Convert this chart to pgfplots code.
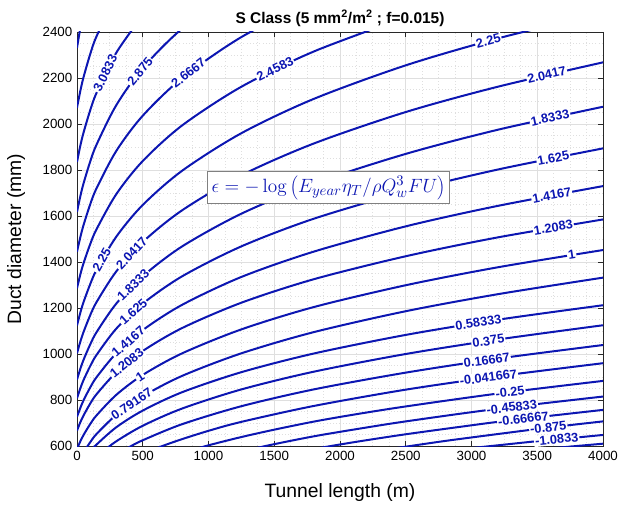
\documentclass[border=0pt]{standalone}
\usepackage[no-math]{fontspec}
\setmainfont{Liberation Sans}
\usepackage{pgfplots}
\pgfplotsset{compat=1.18}
\definecolor{cblue}{RGB}{12,22,178}
\definecolor{gridgray}{RGB}{223,223,223}
\definecolor{axgray}{RGB}{40,40,40}

\pgfplotsset{cline/.style={color=cblue,line width=1.5pt,smooth,no markers}}
\tikzset{clab/.style={text=cblue,fill=white,inner sep=0.8pt,font=\bfseries\fontsize{9.6}{10}\selectfont}}

\begin{document}
\begin{tikzpicture}
\begin{axis}[
  scale only axis,width=394.5pt,height=310.5pt,
  xmin=0,xmax=4000,ymin=600,ymax=2400,
  xtick={0,500,...,4000},ytick={600,800,...,2400},
  minor x tick num=3,minor y tick num=3,
  grid=both,
  major grid style={gridgray,line width=0.6pt},
  minor grid style={gridgray,dotted,line width=0.6pt},
  tick align=inside,major tick length=4pt,minor tick length=0pt,
  axis line style={axgray,line width=0.6pt},
  tick style={axgray,line width=0.6pt},
  ticklabel style={font=\fontsize{10}{12}\selectfont},
  /pgf/number format/assume math mode=true,
  /pgf/number format/1000 sep={},
  scaled ticks=false,
  xlabel={Tunnel length (m)},
  ylabel={Duct diameter (mm)},
  xlabel style={font=\fontsize{14.5}{16}\selectfont,at={(axis description cs:0.5,0)},anchor=center,yshift=-34.5pt},
  ylabel style={font=\fontsize{14.5}{16}\selectfont,at={(axis description cs:0,0.5)},anchor=center,yshift=45.75pt},
  title={\bfseries S Class (5 mm\textsuperscript{2}/m\textsuperscript{2} ; f=0.015)},
  title style={font=\fontsize{11.6}{14}\selectfont,at={(axis description cs:0.5,1)},anchor=center,yshift=4.5pt},
]
\coordinate (sw) at (rel axis cs:0,0);
\coordinate (ne) at (rel axis cs:1,1);

% contour levels
\addplot[cline] coordinates {(0,2331)(25,2416)(50,2488)}; % 3.5
\addplot[cline] coordinates {(0,2071)(25,2143)(50,2204)(100,2303)(150,2383)(300,2561)}; % 3.2917
\addplot[cline] coordinates {(0,1835)(25,1905)(50,1963)(100,2059)(150,2137)(300,2311)(500,2472)}; % 3.0833
\addplot[cline] coordinates {(0,1618)(25,1685)(50,1742)(100,1836)(150,1912)(300,2083)(500,2243)(800,2415)(1250,2601)}; % 2.875
\addplot[cline] coordinates {(0,1445)(25,1507)(50,1561)(100,1650)(150,1722)(300,1884)(500,2036)(800,2200)(1250,2378)(1800,2539)}; % 2.6667
\addplot[cline] coordinates {(0,1286)(25,1345)(50,1395)(100,1477)(150,1544)(300,1696)(500,1839)(800,1994)(1250,2162)(1800,2315)(2500,2464)}; % 2.4583
\addplot[cline] coordinates {(0,1124)(25,1179)(50,1226)(100,1303)(150,1367)(300,1511)(500,1648)(800,1797)(1250,1960)(1800,2109)(2500,2255)(3200,2372)(4000,2485)}; % 2.25
\addplot[cline] coordinates {(0,1003)(25,1053)(50,1096)(100,1168)(150,1227)(300,1360)(500,1487)(800,1625)(1250,1777)(1800,1915)(2500,2052)(3200,2162)(4000,2268)}; % 2.0417
\addplot[cline] coordinates {(0,889)(25,935)(50,975)(100,1041)(150,1096)(300,1220)(500,1338)(800,1468)(1250,1610)(1800,1741)(2500,1870)(3200,1975)(4000,2075)}; % 1.8333
\addplot[cline] coordinates {(0,808)(25,850)(50,887)(100,947)(150,997)(300,1111)(500,1219)(800,1338)(1250,1468)(1800,1588)(2500,1706)(3200,1802)(4000,1894)}; % 1.625
\addplot[cline] coordinates {(0,727)(25,765)(50,799)(100,854)(150,900)(300,1004)(500,1104)(800,1214)(1250,1335)(1800,1445)(2500,1555)(3200,1644)(4000,1730)}; % 1.4167
\addplot[cline] coordinates {(0,667)(25,703)(50,733)(100,784)(150,826)(300,921)(500,1013)(800,1113)(1250,1223)(1800,1325)(2500,1425)(3200,1507)(4000,1585)}; % 1.2083
\addplot[cline] coordinates {(0,587)(25,620)(50,648)(100,695)(150,734)(300,823)(500,909)(800,1003)(1250,1107)(1800,1204)(2500,1299)(3200,1377)(4000,1452)}; % 1
\addplot[cline] coordinates {(0,517)(25,547)(50,573)(100,616)(150,653)(300,736)(500,816)(800,905)(1250,1003)(1800,1095)(2500,1186)(3200,1260)(4000,1332)}; % 0.79167
\addplot[cline] coordinates {(50,535)(100,575)(150,607)(300,682)(500,754)(800,834)(1250,921)(1800,1002)(2500,1083)(3200,1149)(4000,1212)}; % 0.58333
\addplot[cline] coordinates {(100,521)(150,551)(200,577)(300,621)(500,688)(800,763)(1250,846)(1800,923)(2500,1000)(3200,1063)(4000,1125)}; % 0.375
\addplot[cline] coordinates {(200,521)(300,562)(400,596)(500,625)(800,695)(1250,773)(1800,846)(2500,919)(3200,980)(4000,1039)}; % 0.16667
\addplot[cline] coordinates {(400,537)(500,565)(650,600)(800,630)(1000,666)(1250,705)(1800,774)(2500,845)(3200,903)(4000,960)}; % -0.041667
\addplot[cline] coordinates {(800,570)(1000,603)(1250,639)(1500,671)(1800,706)(2100,736)(2500,772)(3200,828)(4000,883)}; % -0.25
\addplot[cline] coordinates {(1250,577)(1500,608)(1800,642)(2100,671)(2500,707)(3200,762)(4000,815)}; % -0.45833
\addplot[cline] coordinates {(1800,587)(2100,616)(2500,651)(3000,690)(3200,705)(3500,725)(4000,757)}; % -0.66667
\addplot[cline] coordinates {(2300,580)(2500,597)(2800,622)(3200,652)(3600,681)(4000,707)}; % -0.875
\addplot[cline] coordinates {(3000,591)(3200,603)(3500,621)(3800,637)(4000,648)}; % -1.0833
\addplot[cline] coordinates {(3500,584)(3800,600)(4000,610)}; % -1.2917

% contour labels
\node[clab,rotate=64] at (axis cs:215,2221) {3.0833};
\node[clab,rotate=51] at (axis cs:479,2228) {2.875};
\node[clab,rotate=38] at (axis cs:847,2222) {2.6667};
\node[clab,rotate=26] at (axis cs:1506,2238) {2.4583};
\node[clab,rotate=15] at (axis cs:3128,2361) {2.25};
\node[clab,rotate=13] at (axis cs:3572,2214) {2.0417};
\node[clab,rotate=12] at (axis cs:3597,2027) {1.8333};
\node[clab,rotate=11] at (axis cs:3622,1852) {1.625};
\node[clab,rotate=10.5] at (axis cs:3610,1690) {1.4167};
\node[clab,rotate=9.6] at (axis cs:3622,1550) {1.2083};
\node[clab,rotate=9] at (axis cs:3762,1431) {1};
\node[clab,rotate=8.8] at (axis cs:3052,1136) {0.58333};
\node[clab,rotate=8.2] at (axis cs:3128,1057) {0.375};
\node[clab,rotate=7.8] at (axis cs:3116,973) {0.16667};
\node[clab,rotate=7.4] at (axis cs:3128,898) {-0.041667};
\node[clab,rotate=6.8] at (axis cs:3293,834) {-0.25};
\node[clab,rotate=6.9] at (axis cs:3306,769) {-0.45833};
\node[clab,rotate=6.6] at (axis cs:3394,718) {-0.66667};
\node[clab,rotate=6.2] at (axis cs:3584,680) {-0.875};
\node[clab,rotate=5.5] at (axis cs:3648,629) {-1.0833};
\node[clab,rotate=61] at (axis cs:188,1409) {2.25};
\node[clab,rotate=47] at (axis cs:416,1438) {2.0417};
\node[clab,rotate=44.5] at (axis cs:428,1300) {1.8333};
\node[clab,rotate=42] at (axis cs:428,1184) {1.625};
\node[clab,rotate=41] at (axis cs:390,1053) {1.4167};
\node[clab,rotate=39] at (axis cs:378,961) {1.2083};
\node[clab,rotate=34] at (axis cs:479,901) {1};
\node[clab,rotate=34] at (axis cs:416,785) {0.79167};

\node[draw=gray,fill=white,text=cblue,line width=0.6pt,inner sep=3pt,font=\fontsize{15.2}{18}\selectfont]
  at (axis cs:1913,1724) {$\epsilon = -\log\left(E_{year}\eta_T/\rho Q_w^3FU\right)$};
\end{axis}
\pgfresetboundingbox
\path ([shift={(-57.75pt,-44.25pt)}]sw) rectangle ([shift={(14.25pt,24pt)}]ne);
\end{tikzpicture}
\end{document}
